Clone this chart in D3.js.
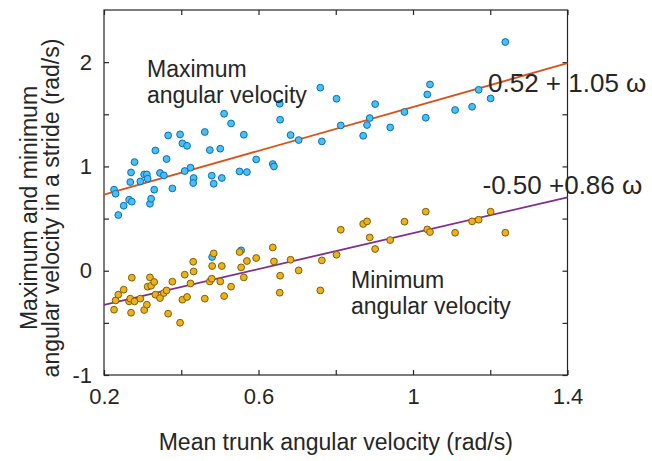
<!DOCTYPE html>
<html><head><meta charset="utf-8">
<script src="https://cdn.jsdelivr.net/npm/d3@7"></script>
<style>body{margin:0;background:#fff;} text{font-family:"Liberation Sans",Arial,Helvetica,sans-serif;fill:#262626;}</style>
</head><body>
<svg id="chart" width="652" height="461"></svg>
<script>
const trunkVel = [0.226,0.230,0.237,0.251,0.265,0.268,0.270,0.272,0.279,0.294,0.304,0.311,0.313,0.319,0.322,0.330,0.333,0.345,0.355,0.362,0.366,0.377,0.397,0.403,0.409,0.415,0.424,0.432,0.431,0.461,0.474,0.479,0.480,0.484,0.501,0.505,0.511,0.529,0.551,0.555,0.562,0.570,0.594,0.637,0.640,0.655,0.656,0.683,0.704,0.760,0.764,0.802,0.813,0.871,0.881,0.888,0.902,0.941,0.978,1.033,1.037,1.044,1.109,1.153,1.170,1.201,1.239];
const maxVel = [0.777,0.738,0.534,0.623,0.681,0.850,0.942,0.662,1.042,0.856,0.923,0.923,0.882,0.642,0.690,0.777,1.153,0.937,0.914,1.071,1.297,0.789,1.307,1.221,0.956,1.198,0.988,0.889,0.841,1.330,1.157,0.911,0.131,0.834,1.170,0.889,1.505,1.412,0.952,0.195,1.304,0.946,1.067,1.023,1.000,1.601,1.448,1.301,1.253,1.755,1.240,1.649,1.393,1.294,1.397,1.464,1.598,1.374,1.522,1.467,1.690,1.786,1.541,1.572,1.735,1.652,2.193];
const minVel = [-0.374,-0.285,-0.230,-0.182,-0.294,-0.268,-0.403,-0.067,-0.294,-0.268,-0.377,-0.326,-0.153,-0.064,-0.144,-0.108,-0.230,-0.262,-0.214,-0.189,-0.412,-0.105,-0.499,-0.278,-0.038,-0.252,-0.122,-0.007,0.086,-0.268,-0.103,-0.077,0.045,0.166,-0.103,0.045,-0.243,-0.153,0.179,0.032,-0.064,0.093,0.122,0.223,0.089,-0.211,-0.048,0.105,0.003,-0.189,0.099,0.153,0.393,0.448,0.473,0.319,0.208,0.294,0.470,0.566,0.396,0.371,0.364,0.473,0.489,0.566,0.364];
const fitMax = [0.52, 1.05];
const fitMin = [-0.50, 0.86];
const xTicks = [0.2,0.4,0.6,0.8,1.0,1.2,1.4];
const xTickLabels = ["0.2","","0.6","","1","","1.4"];
const yTicks = [-1,-0.5,0,0.5,1,1.5,2];
const yTickLabels = ["-1","","0","","1","","2"];

const svg = d3.select("#chart");
const L=104, R=567.5, T=10, B=375;
const x = d3.scaleLinear().domain([0.2,1.4]).range([L,R]);
const y = d3.scaleLinear().domain([-1,2.5]).range([B,T]);
const ink = "#262626";

// frame
svg.append("rect").attr("x",L).attr("y",T).attr("width",R-L).attr("height",B-T)
  .attr("fill","none").attr("stroke",ink).attr("stroke-width",1.2);

const tl = 5;
const fs = 22;
// bottom axis
svg.append("g").attr("transform",`translate(0,${B})`)
  .call(d3.axisBottom(x).tickValues(xTicks).tickSizeInner(-tl).tickSizeOuter(0).tickPadding(13)
    .tickFormat((d,i)=>xTickLabels[i]));
// top ticks
svg.append("g").attr("transform",`translate(0,${T})`)
  .call(d3.axisTop(x).tickValues(xTicks).tickSizeInner(-tl).tickSizeOuter(0).tickFormat(""));
// left axis
svg.append("g").attr("transform",`translate(${L},0)`)
  .call(d3.axisLeft(y).tickValues(yTicks).tickSizeInner(-tl).tickSizeOuter(0).tickPadding(12)
    .tickFormat((d,i)=>yTickLabels[i]));
svg.append("g").attr("transform",`translate(${R},0)`)
  .call(d3.axisRight(y).tickValues(yTicks).tickSizeInner(-tl).tickSizeOuter(0).tickFormat(""));
svg.selectAll(".domain").remove();
svg.selectAll(".tick line").attr("stroke",ink).attr("stroke-width",1.2);
svg.selectAll(".tick text").attr("font-size",fs).attr("fill",ink).style("font-family","Liberation Sans, Arial, sans-serif");

// fit lines
const lineGen = d3.line().x(d=>x(d[0])).y(d=>y(d[1]));
const xs = [0.2,1.4];
svg.append("path").datum(xs.map(v=>[v,fitMax[0]+fitMax[1]*v])).attr("d",lineGen)
  .attr("stroke","#D95319").attr("stroke-width",1.8).attr("fill","none");
svg.append("path").datum(xs.map(v=>[v,fitMin[0]+fitMin[1]*v])).attr("d",lineGen)
  .attr("stroke","#7E2F8E").attr("stroke-width",1.8).attr("fill","none");

// points
svg.append("g").selectAll("circle").data(trunkVel).join("circle")
  .attr("cx",d=>x(d)).attr("cy",(d,i)=>y(maxVel[i])).attr("r",3.4)
  .attr("fill","#4DBEEE").attr("stroke","#0072BD").attr("stroke-width",1);
svg.append("g").selectAll("circle").data(trunkVel).join("circle")
  .attr("cx",d=>x(d)).attr("cy",(d,i)=>y(minVel[i])).attr("r",3.4)
  .attr("fill","#EDB120").attr("stroke","#7F6000").attr("stroke-width",1);

// annotations
function label(xp,yp,lines,size,dy){
  const t = svg.append("text").attr("x",xp).attr("y",yp).attr("font-size",size);
  lines.forEach((s,i)=>t.append("tspan").attr("x",xp).attr("dy",i?dy:0).text(s));
}
label(147,76.5,["Maximum","angular velocity"],23,26.5);
label(351,287.5,["Minimum","angular velocity"],23,26);
label(488,91.5,["0.52 + 1.05 ω"],26,0);
label(482.5,193.5,["-0.50 +0.86 ω"],26,0);

// axis titles
svg.append("text").attr("x",(L+R)/2).attr("y",450).attr("text-anchor","middle").attr("font-size",23)
  .text("Mean trunk angular velocity (rad/s)");
const yl = svg.append("text").attr("transform","translate(37,208) rotate(-90)").attr("text-anchor","middle").attr("font-size",23);
yl.append("tspan").attr("x",0).attr("dy",0).text("Maximum and minimum");
yl.append("tspan").attr("x",0).attr("dy",22).text("angular velocity in a stride (rad/s)");
</script>
</body></html>
